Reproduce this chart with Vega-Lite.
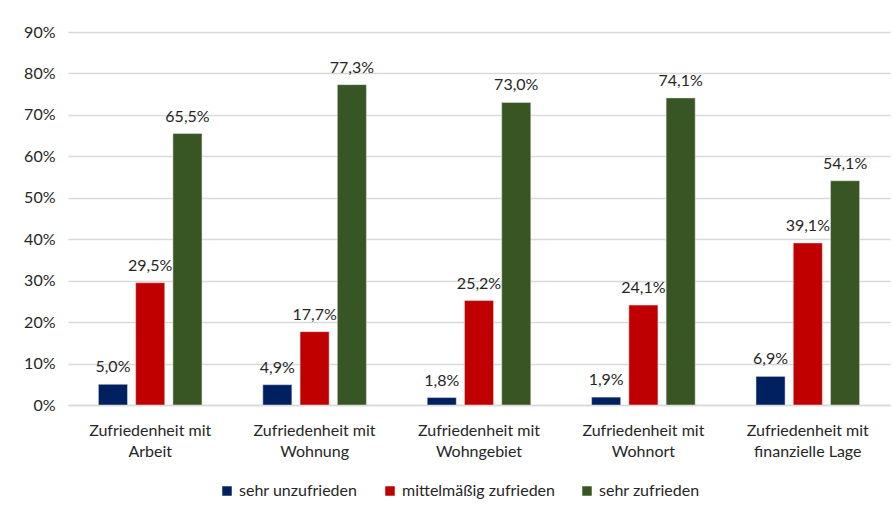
{
  "$schema": "https://vega.github.io/schema/vega-lite/v6.json",
  "width": 822,
  "height": 373,
  "autosize": "none",
  "padding": {"left": 68, "top": 32, "right": 4, "bottom": 105},
  "background": "white",
  "config": {
    "locale": {"number": {"decimal": ",", "thousands": ".", "grouping": [3], "currency": ["", " €"]}},
    "view": {"stroke": null},
    "font": "Lato",
    "axis": {"labelFont": "Lato", "labelFontSize": 16, "labelColor": "#262626"}
  },
  "data": {
    "values": [
      {"cat": "Zufriedenheit mit Arbeit", "grp": "sehr unzufrieden", "v": 0.050},
      {"cat": "Zufriedenheit mit Arbeit", "grp": "mittelmäßig zufrieden", "v": 0.295},
      {"cat": "Zufriedenheit mit Arbeit", "grp": "sehr zufrieden", "v": 0.655},
      {"cat": "Zufriedenheit mit Wohnung", "grp": "sehr unzufrieden", "v": 0.049},
      {"cat": "Zufriedenheit mit Wohnung", "grp": "mittelmäßig zufrieden", "v": 0.177},
      {"cat": "Zufriedenheit mit Wohnung", "grp": "sehr zufrieden", "v": 0.773},
      {"cat": "Zufriedenheit mit Wohngebiet", "grp": "sehr unzufrieden", "v": 0.018},
      {"cat": "Zufriedenheit mit Wohngebiet", "grp": "mittelmäßig zufrieden", "v": 0.252},
      {"cat": "Zufriedenheit mit Wohngebiet", "grp": "sehr zufrieden", "v": 0.730},
      {"cat": "Zufriedenheit mit Wohnort", "grp": "sehr unzufrieden", "v": 0.019},
      {"cat": "Zufriedenheit mit Wohnort", "grp": "mittelmäßig zufrieden", "v": 0.241},
      {"cat": "Zufriedenheit mit Wohnort", "grp": "sehr zufrieden", "v": 0.741},
      {"cat": "Zufriedenheit mit finanzielle Lage", "grp": "sehr unzufrieden", "v": 0.069},
      {"cat": "Zufriedenheit mit finanzielle Lage", "grp": "mittelmäßig zufrieden", "v": 0.391},
      {"cat": "Zufriedenheit mit finanzielle Lage", "grp": "sehr zufrieden", "v": 0.541}
    ]
  },
  "encoding": {
    "x": {
      "field": "cat", "type": "nominal", "sort": null, "title": null,
      "scale": {"paddingInner": 0.37, "paddingOuter": 0.185},
      "axis": {
        "labelAngle": 0, "ticks": false, "domainColor": "#d9d9d9", "domainWidth": 1.5,
        "labelPadding": 17, "labelLineHeight": 21,
        "labelExpr": "['Zufriedenheit mit', replace(datum.label, 'Zufriedenheit mit ', '')]"
      }
    },
    "xOffset": {"field": "grp", "type": "nominal", "sort": ["sehr unzufrieden", "mittelmäßig zufrieden", "sehr zufrieden"], "scale": {"paddingInner": 0.22, "paddingOuter": 0}},
    "y": {
      "field": "v", "type": "quantitative", "title": null,
      "scale": {"domain": [0, 0.9], "nice": false},
      "axis": {"format": ".0%", "values": [0, 0.1, 0.2, 0.3, 0.4, 0.5, 0.6, 0.7, 0.8, 0.9], "domain": false, "ticks": false, "gridColor": "#d9d9d9", "gridWidth": 1.5, "labelPadding": 13, "labelOverlap": false}
    }
  },
  "layer": [
    {
      "mark": {"type": "bar", "stroke": "#e6e6e6", "strokeWidth": 0.5},
      "encoding": {
        "color": {
          "field": "grp", "type": "nominal", "title": null,
          "sort": ["sehr unzufrieden", "mittelmäßig zufrieden", "sehr zufrieden"],
          "scale": {"domain": ["sehr unzufrieden", "mittelmäßig zufrieden", "sehr zufrieden"], "range": ["#002060", "#C00000", "#375623"]},
          "legend": {
            "orient": "none", "direction": "horizontal", "legendX": 151, "legendY": 451,
            "symbolType": "square", "symbolSize": 90, "symbolStrokeWidth": 0,
            "labelFont": "Lato", "labelFontSize": 16, "labelColor": "#262626",
            "columnPadding": 24, "labelOffset": 4
          }
        }
      }
    },
    {
      "mark": {"type": "text", "baseline": "bottom", "dy": -9, "fontSize": 16, "font": "Lato", "color": "#262626"},
      "encoding": {"text": {"field": "v", "type": "quantitative", "format": ".1%"}}
    }
  ]
}
